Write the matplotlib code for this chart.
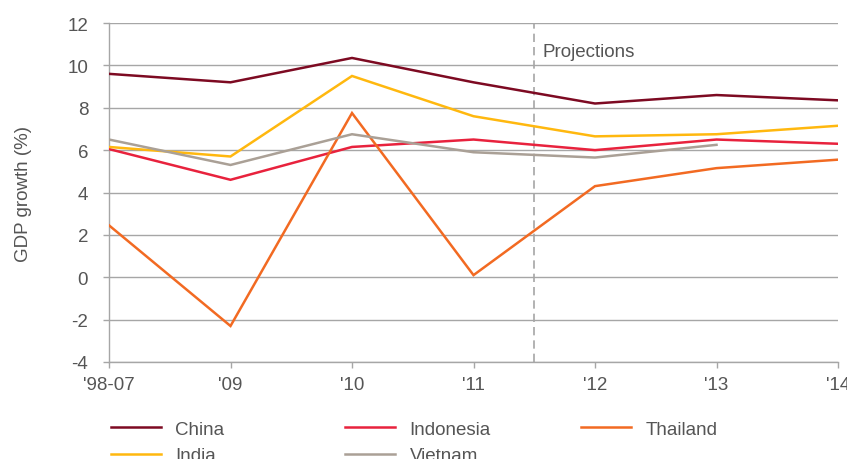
import matplotlib
matplotlib.use("Agg")
import matplotlib.pyplot as plt

plt.rcParams['font.family'] = ['Liberation Sans', 'DejaVu Sans']

categories = ["'98-07", "'09", "'10", "'11", "'12", "'13", "'14"]
china = [9.6, 9.2, 10.35, 9.2, 8.2, 8.6, 8.35]
india = [6.15, 5.7, 9.5, 7.6, 6.65, 6.75, 7.15]
indonesia = [6.05, 4.6, 6.15, 6.5, 6.0, 6.5, 6.3]
thailand = [2.45, -2.3, 7.75, 0.1, 4.3, 5.15, 5.55]
vietnam = [6.5, 5.3, 6.75, 5.9, 5.65, 6.25]
projection_start = 3.5

colors = {
    'China': '#7d0a22',
    'India': '#ffb80f',
    'Indonesia': '#e8223d',
    'Thailand': '#f26a22',
    'Vietnam': '#aaa096',
}
txt = '#555555'
grid_c = '#a6a6a6'
fs = 13.5

fig = plt.figure(figsize=(8.47, 4.6), dpi=100)
ax = fig.add_axes([109/847, 1-363/460, (838-109)/847, (363-24)/460])

x = list(range(len(categories)))
series = [('China', china), ('Indonesia', indonesia), ('Thailand', thailand),
          ('India', india), ('Vietnam', vietnam)]
handles = {}
for name, vals in series:
    ln, = ax.plot(x[:len(vals)], vals, color=colors[name], lw=1.8, label=name,
                  solid_joinstyle='miter', zorder=3)
    handles[name] = ln

ax.set_xlim(0, 6)
ax.set_ylim(-4, 12)
ax.set_yticks(range(-4, 13, 2))
ax.set_yticklabels([str(v) for v in range(-4, 13, 2)])
ax.set_xticks(x)
ax.set_xticklabels(categories)
ax.yaxis.grid(True, color=grid_c, lw=1.0)
ax.set_axisbelow(True)
for s in ['top', 'right']:
    ax.spines[s].set_visible(False)
for s in ['left', 'bottom']:
    ax.spines[s].set_color(grid_c)
    ax.spines[s].set_linewidth(1.0)
ax.tick_params(axis='both', colors=grid_c, labelcolor=txt, labelsize=fs, length=4, width=1.0)
ax.tick_params(axis='y', pad=11)
ax.tick_params(axis='x', pad=6)

ax.axvline(projection_start, color='#a6a6a6', lw=1.2, ls=(0, (5, 3)), zorder=2)
ax.text(projection_start + 0.07, 10.65, 'Projections', color=txt, fontsize=fs,
        ha='left', va='center')

ax.set_ylabel('GDP growth (%)', color=txt, fontsize=fs)
ax.yaxis.set_label_coords((32-109)/729, 0.5)

cols = [(['China', 'India'], 117), (['Indonesia', 'Vietnam'], 351), (['Thailand'], 587)]
for names, xpx in cols:
    leg = fig.legend([handles[n] for n in names], names, loc='upper left',
                     bbox_to_anchor=(xpx/847 - 0.014, 1-416/460), frameon=False,
                     fontsize=fs, handlelength=2.7, handletextpad=0.75,
                     labelspacing=0.5, borderaxespad=0, borderpad=0.3)
    for t in leg.get_texts():
        t.set_color(txt)

fig.savefig('out.png', dpi=100)
